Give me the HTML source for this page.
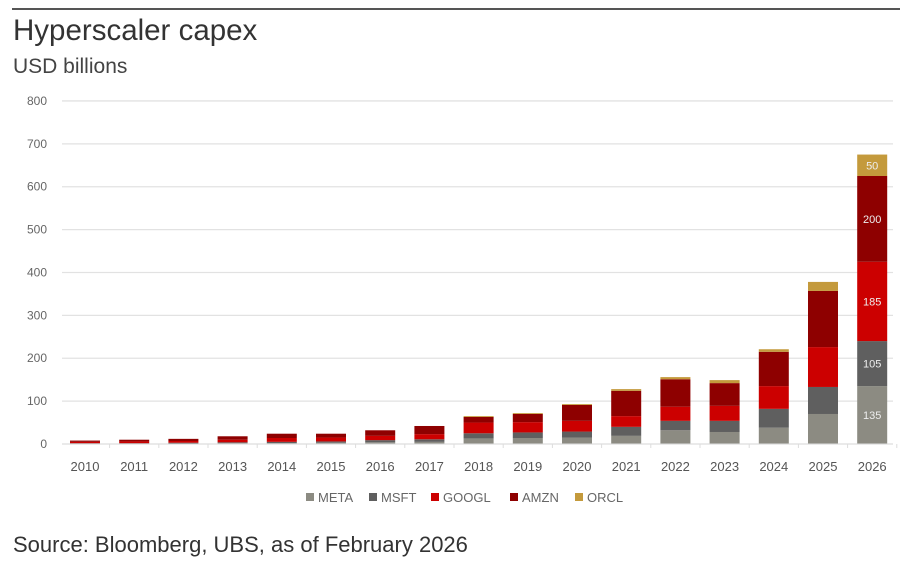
<!DOCTYPE html>
<html><head><meta charset="utf-8"><style>
html,body{margin:0;padding:0;background:#fff;}
body{width:900px;height:560px;overflow:hidden;font-family:"Liberation Sans",sans-serif;}
</style></head><body>
<svg id="s" width="900" height="560" xmlns="http://www.w3.org/2000/svg" font-family="Liberation Sans, sans-serif">
<rect x="12" y="8" width="888" height="2" fill="#555"/>
<text x="13" y="40" font-size="29.5" fill="#333">Hyperscaler capex</text>
<text x="13" y="73" font-size="21" fill="#444">USD billions</text>
<text x="13" y="552" font-size="22" fill="#333">Source: Bloomberg, UBS, as of February 2026</text>
<g id="g"></g>
</svg>
<script>
var g=document.getElementById('g'),h='';
var y0=444,k=0.4288;
for(var i=0;i<=8;i++){var y=y0-i*100*k;
h+='<line x1="62" x2="893" y1="'+y+'" y2="'+y+'" stroke="#e2e2e2" stroke-width="1.3"/>';
h+='<text x="47" y="'+(y+4)+'" font-size="12" fill="#666" text-anchor="end">'+(i*100)+'</text>';}
var d=[[1,1,3,3,0],[1,1,4,4,0],[1,2,4,5,0],[2,2,6,8,0],[2,3,9,10,0],[3,3,9,9,0],[4,5,10,13,0],[5,6,12,19,0],
[13,12,25,13,2],[14,13,24,19,2],[15,14,25,37,2],[19,21,25,59,4],[32,22,33,64,5],[28,26,35,53,7],[38,44,53,80,6],[70,63,93,131,21],[135,105,185,200,50]];
var c=['#8c8b82','#5f5f5f','#cc0000','#8e0000','#c49a3c'];
for(var j=0;j<17;j++){var cx=85+j*49.2,x=cx-15,cum=0;
for(var s=0;s<5;s++){var v=d[j][s];if(!v)continue;var yt=y0-(cum+v)*k;
h+='<rect x="'+x+'" y="'+yt+'" width="30" height="'+(v*k)+'" fill="'+c[s]+'"/>';
if(j==16)h+='<text x="'+cx+'" y="'+(yt+v*k/2+4)+'" font-size="11" fill="#eee" text-anchor="middle">'+v+'</text>';
cum+=v;}
h+='<text x="'+cx+'" y="471" font-size="13" fill="#555" text-anchor="middle">'+(2010+j)+'</text>';
h+='<line x1="'+(cx+24.6)+'" x2="'+(cx+24.6)+'" y1="444" y2="448" stroke="#ddd"/>';}
h+='<line x1="62" x2="893" y1="444" y2="444" stroke="#ddd"/>';
var L=[[306,'META'],[369,'MSFT'],[431,'GOOGL'],[510,'AMZN'],[575,'ORCL']];
for(var s=0;s<5;s++){h+='<rect x="'+L[s][0]+'" y="493" width="8" height="8" fill="'+c[s]+'"/>';
h+='<text x="'+(L[s][0]+12)+'" y="502" font-size="13" fill="#666">'+L[s][1]+'</text>';}
g.innerHTML=h;
</script>
</body></html>
